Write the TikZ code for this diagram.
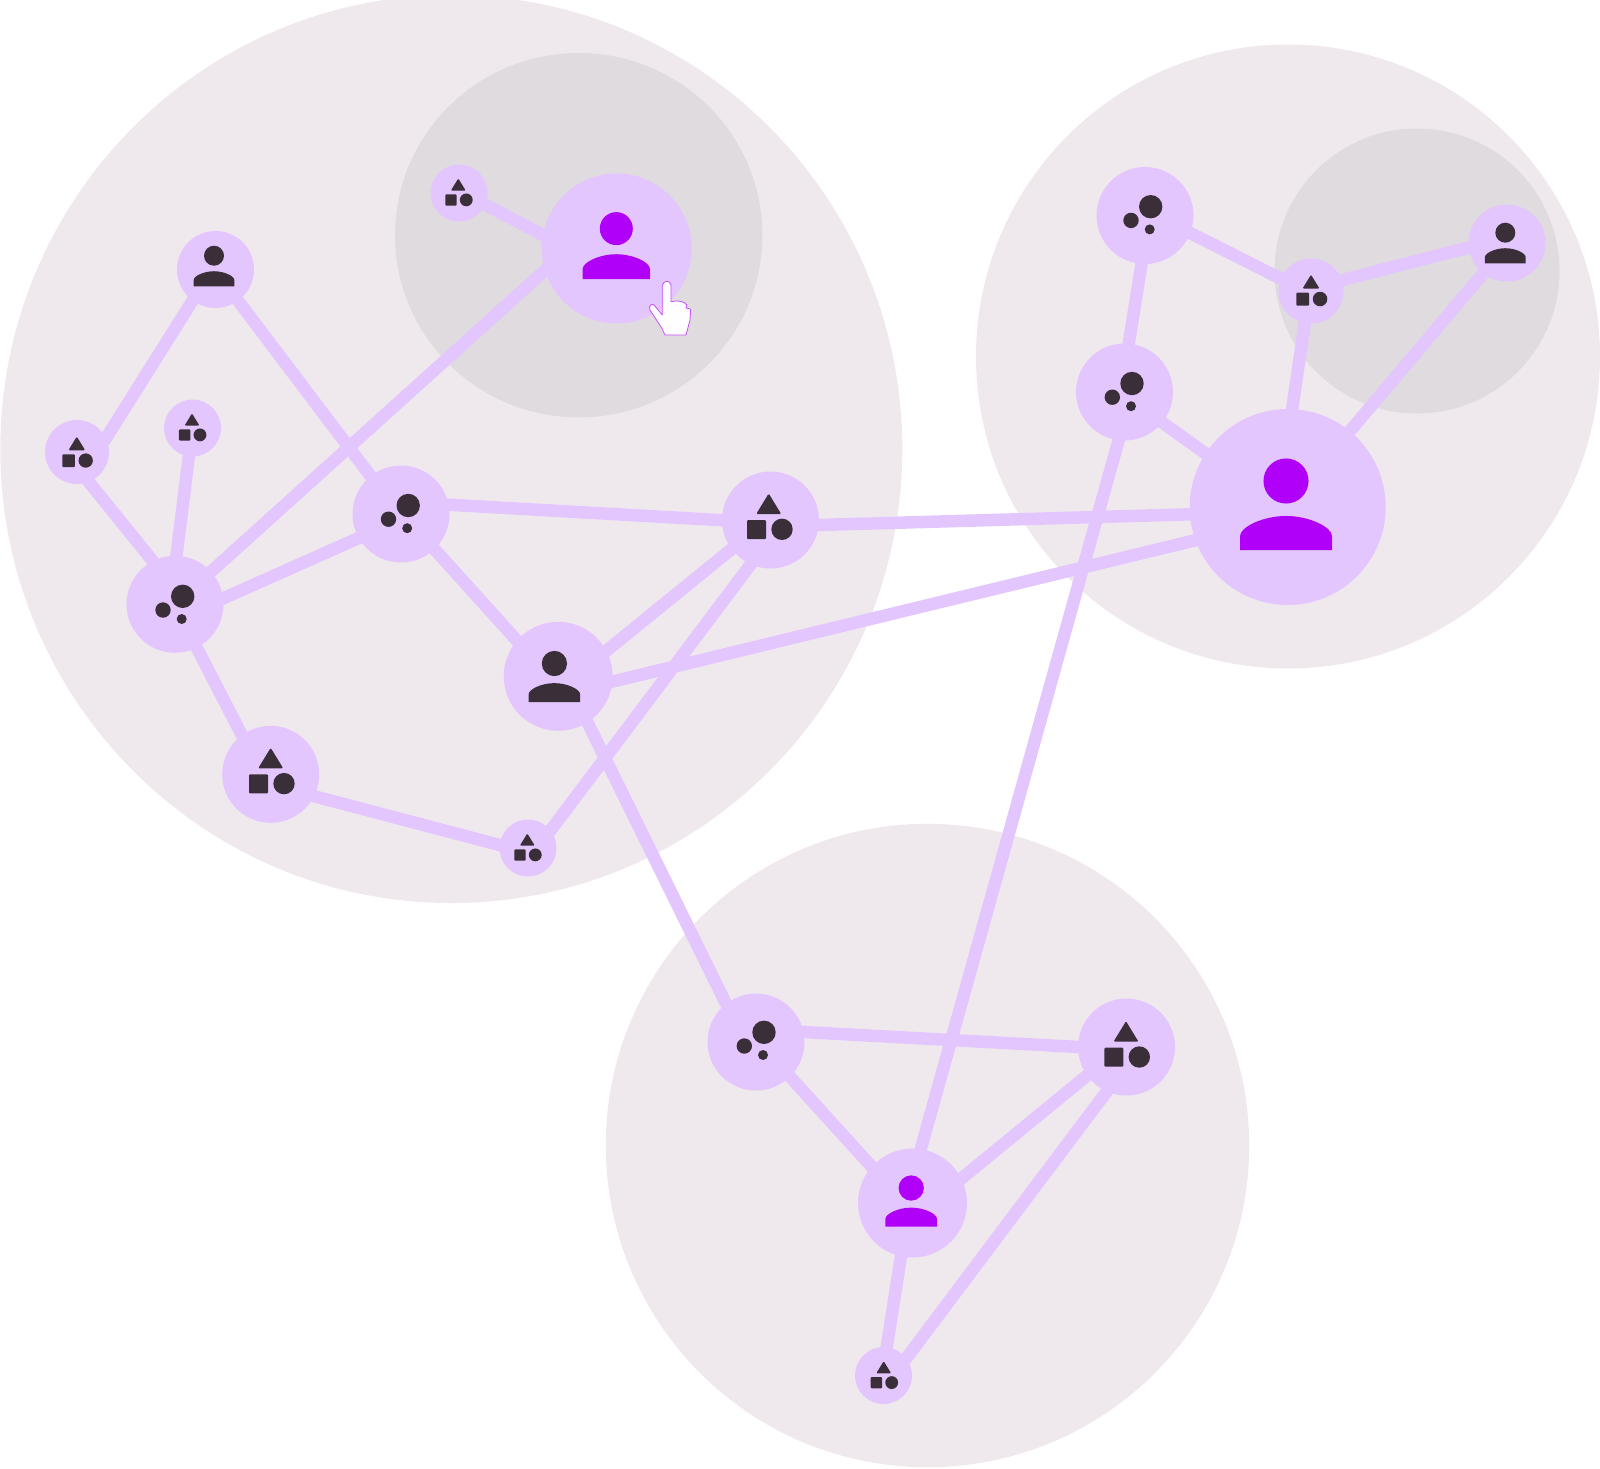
\documentclass[tikz,border=0pt]{standalone}
\definecolor{lilac}{HTML}{E4C6FF}
\definecolor{zoneA}{HTML}{EFE9ED}
\definecolor{zoneB}{HTML}{DFDBDF}
\definecolor{inkdark}{HTML}{3A2F38}
\definecolor{inkpurple}{HTML}{B000F8}
\pgfdeclarelayer{zones}\pgfdeclarelayer{links}
\pgfsetlayers{zones,links,main}
\tikzset{
  zonebig/.style={fill=zoneA},
  zonein/.style={fill=zoneB},
  dot/.style={circle,fill=lilac,inner sep=0pt,minimum size=#1*2pt},
  link/.style={draw=lilac,line width=12.5pt,shorten <=-5pt,shorten >=-5pt}
}
% connector from a point on node #1 (offset #2,#3) to a point on node #4 (offset #5,#6), offsets from node centres
\newcommand{\linkfrom}[6]{\draw[link] ([shift={(#2,#3)}]#1.center) -- ([shift={(#5,#6)}]#4.center);}
% person icon: origin at head centre, unit = half body width
\newcommand{\personicon}[4]{\begin{scope}[shift={(#1,#2)},scale=#3]
  \fill[#4] (0,0) circle[radius=.49];
  \fill[#4] (-1,1.5) -- (-1,1.2) .. controls (-1,1) and (-.5,.76) .. (0,.76) .. controls (.5,.76) and (1,1) .. (1,1.2) -- (1,1.5) -- cycle;
\end{scope}}
% shapes icon: origin at node centre, unit = 1px at r=48.5
\newcommand{\shapesicon}[3]{\begin{scope}[shift={(#1,#2)},scale=#3]
  \fill[inkdark,rounded corners=1.2pt] (0,-26.5) -- (12.5,-6) -- (-12.5,-6) -- cycle;
  \fill[inkdark,rounded corners=1pt] (-21.7,0) rectangle (-2.7,19);
  \fill[inkdark] (13.3,9.3) circle[radius=10.7];
\end{scope}}
\newcommand{\dotsicon}[3]{\begin{scope}[shift={(#1,#2)},scale=#3]
  \fill[inkdark] (7.7,-8) circle[radius=11.7];
  \fill[inkdark] (-12,5.7) circle[radius=7.7];
  \fill[inkdark] (6.7,14.7) circle[radius=5];
\end{scope}}
\begin{document}
\begin{tikzpicture}[x=1pt,y=-1pt]
\useasboundingbox (0,0) rectangle (1600,1468);
\begin{pgfonlayer}{zones}
  \clip (0,0) rectangle (1600,1468);
  \fill[zonebig] (451.3,449) ellipse[x radius=451,y radius=454];
  \fill[zonein] (578.7,235.2) ellipse[x radius=183.7,y radius=182.2];
  \fill[zonebig] (1288,356.5) circle[radius=312];
  \fill[zonein] (1417,271) circle[radius=142.5];
  \fill[zonebig] (927.5,1145.5) circle[radius=321.7];
\end{pgfonlayer}
% nodes
\node[dot=28.5] (n1) at (459,193) {};
\node[dot=75]   (n2) at (616.7,248.5) {};
\node[dot=38.5] (n3) at (215.5,269.5) {};
\node[dot=32]   (n4) at (77,452) {};
\node[dot=28.5] (n5) at (192.5,428) {};
\node[dot=48.5] (n6) at (175,604.3) {};
\node[dot=48.5] (n7) at (401,514) {};
\node[dot=48.5] (n8) at (770.5,520) {};
\node[dot=54.5] (n9) at (558.2,676.3) {};
\node[dot=48.5] (n10) at (270.7,774.3) {};
\node[dot=28.5] (n11) at (528,848) {};
\node[dot=48.5] (n12) at (1145,215.5) {};
\node[dot=48.5] (n13) at (1124.5,392) {};
\node[dot=32.5] (n14) at (1311,291) {};
\node[dot=38.5] (n15) at (1507,243) {};
\node[dot=98]   (n16) at (1287.7,507) {};
\node[dot=48.5] (n17) at (756,1042) {};
\node[dot=48.5] (n18) at (1126.5,1047) {};
\node[dot=54.5] (n19) at (912.5,1203) {};
\node[dot=28.5] (n20) at (883.5,1375.5) {};
% links (offsets from each node's centre to where the link meets its rim)
\begin{pgfonlayer}{links}
\linkfrom{n1}{25}{11}{n2}{-74.4}{-13.8}
\linkfrom{n2}{-71.7}{21.8}{n6}{35.3}{-32}
\linkfrom{n3}{-23.2}{31.5}{n4}{29.3}{-14.3}
\linkfrom{n3}{22.8}{31.5}{n7}{-30.7}{-38.3}
\linkfrom{n4}{10.3}{28}{n6}{-21.7}{-42.6}
\linkfrom{n5}{-3.5}{27}{n6}{1.3}{-47}
\linkfrom{n6}{48.3}{-6}{n7}{-41.7}{23.7}
\linkfrom{n6}{21.7}{43.4}{n10}{-28.7}{-39}
\linkfrom{n7}{47.3}{-9.3}{n8}{-47.2}{.3}
\linkfrom{n7}{33.3}{35}{n9}{-40.9}{-35.3}
\linkfrom{n8}{-38.5}{28.7}{n9}{48.8}{-26}
\linkfrom{n8}{-19.5}{44}{n11}{22.3}{-17.3}
\linkfrom{n8}{47.8}{5}{n16}{-97.4}{7.3}
\linkfrom{n9}{53.8}{5.4}{n16}{-91.4}{33}
\linkfrom{n9}{29.1}{45.7}{n17}{-30}{-38.3}
\linkfrom{n10}{42.6}{21.7}{n11}{-27.3}{-2.7}
\linkfrom{n12}{-3.3}{47.2}{n13}{4.2}{-48}
\linkfrom{n12}{44.7}{17.2}{n14}{-29.7}{-12}
\linkfrom{n14}{30.3}{-10.7}{n15}{-37.7}{4.3}
\linkfrom{n14}{-6}{30.7}{n16}{4.3}{-97}
\linkfrom{n15}{-23.7}{30.3}{n16}{62}{-75.7}
\linkfrom{n13}{37.5}{30.3}{n16}{-82.4}{-53.7}
\linkfrom{n13}{-5.8}{48}{n19}{7.8}{-52.3}
\linkfrom{n17}{47.7}{-10}{n18}{-47.5}{0}
\linkfrom{n17}{34}{34.7}{n19}{-40.8}{-36.3}
\linkfrom{n18}{-39.2}{28.3}{n19}{49.2}{-24.7}
\linkfrom{n18}{-19.2}{43.7}{n20}{23.2}{-17.8}
\linkfrom{n19}{-11.5}{53}{n20}{3.2}{-28.2}
\end{pgfonlayer}
% icons
\personicon{616.3}{228.6}{33.7}{inkpurple}
\personicon{1286}{481}{46}{inkpurple}
\personicon{214}{255.7}{20.4}{inkdark}
\personicon{1505.3}{232.7}{20.4}{inkdark}
\personicon{554.4}{663.5}{25.8}{inkdark}
\personicon{911.2}{1188}{25.8}{inkpurple}
\shapesicon{458.3}{194.3}{.6}
\shapesicon{76.8}{454.3}{.67}
\shapesicon{192}{429.3}{.6}
\shapesicon{768.7}{520}{1}
\shapesicon{270.7}{774.3}{1}
\shapesicon{527.3}{849.3}{.6}
\shapesicon{1311}{292.7}{.68}
\shapesicon{1126}{1047.7}{1}
\shapesicon{883.7}{1377}{.6}
\dotsicon{175}{604.3}{1}
\dotsicon{400.5}{513.5}{1}
\dotsicon{1143}{214.7}{1}
\dotsicon{1124.3}{391.5}{1}
\dotsicon{756.3}{1040.3}{1}
% cursor
\draw[draw=inkpurple!70,line width=.8pt,fill=white!97!lilac,line join=round]
  (662.3,285) .. controls (664,280) and (670,280) .. (671,285) -- (671,301.7)
  .. controls (677,300) and (684,301) .. (687,305) -- (686,308)
  .. controls (688,308) and (690,309) .. (690.7,309.5) -- (690,320) -- (686,335) -- (665,335) -- (661.7,328)
  -- (650,310) .. controls (648,306) and (652,303) .. (654,305) -- (662.3,315) -- cycle;
\end{tikzpicture}
\end{document}
